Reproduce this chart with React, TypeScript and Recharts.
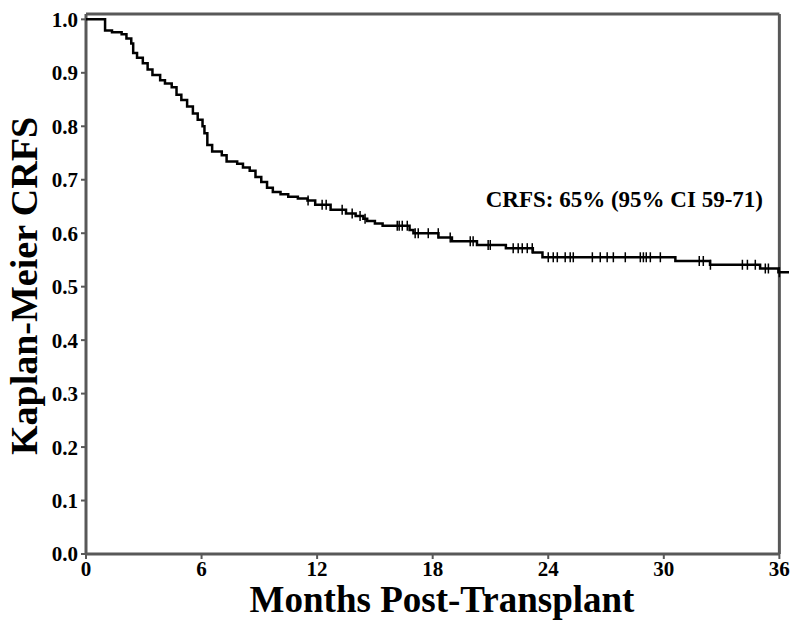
import React from 'react';
import {
  ComposedChart, Line, Scatter, XAxis, YAxis, ReferenceLine, ReferenceDot,
} from 'recharts';

// KM step curve (months, survival)
const stepTimes = [
  0, 0.99, 1.35, 1.85, 2.1, 2.35, 2.45, 2.65, 2.95, 3.2, 3.45, 3.85, 4.1, 4.45, 4.7, 4.95,
  5.25, 5.55, 5.8, 6.05, 6.15, 6.3, 6.55, 7.05, 7.3, 7.85, 8.15, 8.5, 8.8, 9.1, 9.4, 9.7,
  10.1, 10.5, 11.0, 11.5, 11.9, 12.7, 13.5, 14.0, 14.4, 14.6, 15.0, 15.4, 16.8, 17.0, 18.3,
  19.0, 20.3, 21.8, 23.2, 23.7, 30.6, 32.4, 35.0, 35.95, 36.5,
];
const stepSurv = [
  1.0, 0.979, 0.976, 0.972, 0.964, 0.955, 0.937, 0.928, 0.918, 0.906, 0.896, 0.886, 0.88, 0.873, 0.859, 0.849,
  0.837, 0.824, 0.812, 0.8, 0.787, 0.765, 0.753, 0.746, 0.734, 0.73, 0.723, 0.717, 0.705, 0.696, 0.685, 0.677,
  0.673, 0.668, 0.665, 0.661, 0.653, 0.644, 0.637, 0.632, 0.627, 0.623, 0.618, 0.614, 0.606, 0.6, 0.592,
  0.585, 0.578, 0.572, 0.564, 0.555, 0.548, 0.541, 0.534, 0.527, 0.527,
];

// censored observations (months)
const censorTimes = [
  11.53, 12.26, 12.47, 13.3, 13.82, 14.23, 14.49, 16.16, 16.26, 16.42, 16.68, 17.09, 17.25, 17.77,
  18.29, 18.91, 19.95, 20.1, 20.88, 20.99, 22.18, 22.44, 22.65, 22.91, 23.17, 24.0, 24.26, 24.47,
  24.88, 25.14, 25.3, 26.29, 26.7, 27.06, 27.38, 28.0, 28.78, 28.94, 29.09, 29.3, 29.82, 31.84,
  32.05, 32.42, 34.08, 34.34, 34.75, 35.27, 35.43, 36.0,
];

const xTicks = [0, 6, 12, 18, 24, 30, 36];
const yTicks = [0, 0.1, 0.2, 0.3, 0.4, 0.5, 0.6, 0.7, 0.8, 0.9, 1.0];

const FONT = "'Times New Roman', 'Liberation Serif', serif";
const FRAME = '#585858';
const Y_TOP = 1.01;
const X_END = 36;

const steps = stepTimes.map((t, i) => ({ t, s: stepSurv[i] }));

function survAt(t: number) {
  let s = stepSurv[0];
  for (let i = 0; i < stepTimes.length; i++) {
    if (stepTimes[i] <= t) s = stepSurv[i];
  }
  return s;
}

const censors = censorTimes.map((t) => ({ t, s: survAt(t) }));

function CensorTick({ cx, cy }: any) {
  return <line x1={cx} x2={cx} y1={cy - 5} y2={cy + 5} stroke="#000" strokeWidth={1.5} />;
}

const tickStyle = { fontSize: 21, fontWeight: 'bold', fill: '#000', fontFamily: FONT };

export default function App() {
  return (
    <div style={{ position: 'absolute', left: 0, top: 0, background: '#fff' }}>
      <ComposedChart width={800} height={627} margin={{ top: 14, right: 11, bottom: 33, left: 0 }}>
        <XAxis
          type="number"
          dataKey="t"
          domain={[0, 36.5]}
          ticks={xTicks}
          axisLine={false}
          tickLine={{ stroke: FRAME, strokeWidth: 2 }}
          tickSize={5}
          tickMargin={2}
          height={40}
          tick={tickStyle}
          label={{
            content: () => (
              <text x={442} y={612} textAnchor="middle" fontSize={37} fontWeight="bold" fontFamily={FONT} fill="#000">
                Months Post-Transplant
              </text>
            ),
          }}
        />
        <YAxis
          type="number"
          domain={[0, Y_TOP]}
          ticks={yTicks}
          axisLine={false}
          tickLine={{ stroke: FRAME, strokeWidth: 2 }}
          tickSize={5}
          tickMargin={3}
          width={86}
          tick={tickStyle}
          tickFormatter={(v: number) => v.toFixed(1)}
          label={{
            content: () => (
              <text
                x={37}
                y={286}
                transform="rotate(-90, 37, 286)"
                textAnchor="middle"
                fontSize={38}
                fontWeight="bold"
                fontFamily={FONT}
                fill="#000"
              >
                Kaplan-Meier CRFS
              </text>
            ),
          }}
        />
        <ReferenceLine segment={[{ x: 0, y: 0 }, { x: X_END, y: 0 }]} stroke={FRAME} strokeWidth={3} />
        <ReferenceLine segment={[{ x: 0, y: 0 }, { x: 0, y: Y_TOP }]} stroke={FRAME} strokeWidth={3} />
        <ReferenceLine segment={[{ x: 0, y: Y_TOP }, { x: X_END, y: Y_TOP }]} stroke={FRAME} strokeWidth={3} />
        <ReferenceLine segment={[{ x: X_END, y: 0 }, { x: X_END, y: Y_TOP }]} stroke={FRAME} strokeWidth={3} />
        <Line
          data={steps}
          dataKey="s"
          type="stepAfter"
          stroke="#000"
          strokeWidth={2.5}
          dot={false}
          isAnimationActive={false}
        />
        <Scatter data={censors} dataKey="s" shape={CensorTick} isAnimationActive={false} />
        <ReferenceDot
          x={27.95}
          y={0.665}
          r={0}
          stroke="none"
          fill="none"
          label={{
            value: 'CRFS: 65% (95% CI 59-71)',
            position: 'center',
            fontSize: 23,
            fontWeight: 'bold',
            fontFamily: FONT,
            fill: '#000',
          }}
        />
      </ComposedChart>
    </div>
  );
}
